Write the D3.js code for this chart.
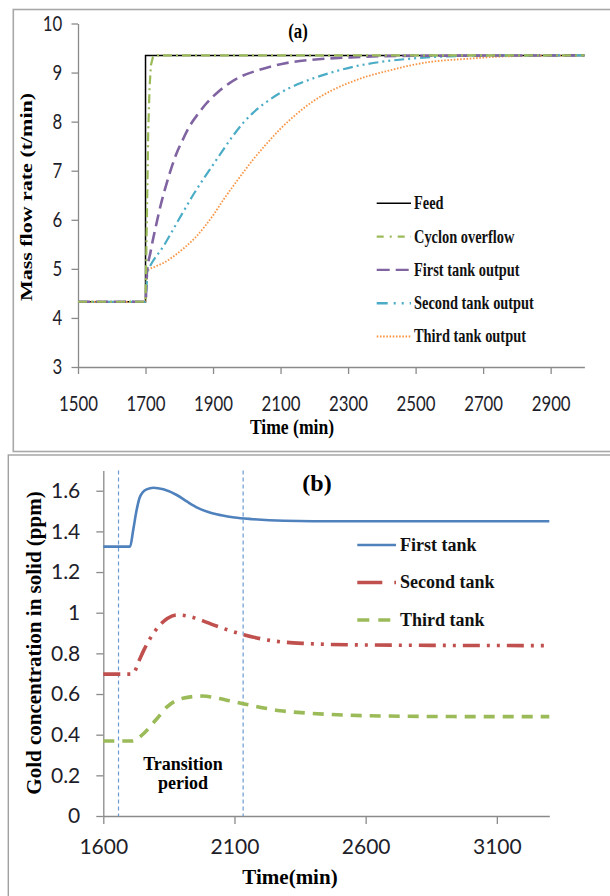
<!DOCTYPE html>
<html><head><meta charset="utf-8">
<script src="https://cdn.jsdelivr.net/npm/d3@7"></script>
<style>body{margin:0;background:#fff} svg{display:block}</style>
</head><body>
<svg id="c" width="610" height="896"></svg>
<script>
// ---------- Panel (a) data: [time (min), mass flow rate (t/min)] ----------
const feedA = [[1500,4.33],[1700,4.33],[1700,9.35],[3000,9.35]];
const cycloneA = [[1500,4.33],[1700,4.33],[1704,6.0],[1708,7.8],[1712,8.7],[1716,9.15],[1722,9.32],[1735,9.35],[3000,9.35]];
const firstTankA = [[1500,4.33],[1700,4.33],[1704,4.9],[1715,5.35],[1730,5.85],[1745,6.3],[1765,6.8],[1790,7.32],[1811,7.64],[1830,7.9],[1857,8.17],[1880,8.37],[1914,8.6],[1950,8.79],[1983,8.92],[2030,9.04],[2076,9.13],[2130,9.21],[2191,9.26],[2306,9.31],[2450,9.34],[3000,9.35]];
const secondTankA = [[1500,4.33],[1700,4.33],[1706,4.95],[1713,5.05],[1753,5.46],[1799,6.01],[1845,6.55],[1903,7.15],[1960,7.72],[1990,7.98],[2020,8.19],[2060,8.41],[2100,8.59],[2150,8.76],[2200,8.89],[2260,9.02],[2330,9.14],[2400,9.22],[2480,9.28],[2594,9.33],[2750,9.35],[3000,9.35]];
const thirdTankA = [[1500,4.33],[1700,4.33],[1705,4.95],[1730,5.05],[1753,5.12],[1788,5.28],[1815,5.43],[1845,5.62],[1875,5.86],[1903,6.12],[1930,6.4],[1960,6.69],[1990,6.97],[2018,7.22],[2060,7.56],[2099,7.85],[2150,8.17],[2191,8.39],[2250,8.63],[2306,8.8],[2360,8.93],[2421,9.04],[2480,9.14],[2536,9.21],[2652,9.28],[2767,9.33],[3000,9.35]];
const xTicksA = [1500,1700,1900,2100,2300,2500,2700,2900];
const yTicksA = [3,4,5,6,7,8,9,10];
const legendA = ["Feed","Cyclon overflow","First tank output","Second tank output","Third tank output"];

// ---------- Panel (b) data: [time (min), gold concentration (ppm)] ----------
const firstTankB = [[1600,1.325],[1702,1.325],[1714,1.407],[1727,1.505],[1740,1.571],[1765,1.607],[1791,1.615],[1829,1.607],[1880,1.579],[1920,1.546],[1960,1.516],[2000,1.495],[2050,1.479],[2100,1.468],[2170,1.46],[2289,1.452],[2400,1.45],[3300,1.45]];
const secondTankB = [[1600,0.698],[1712,0.698],[1735,0.76],[1755,0.817],[1800,0.915],[1844,0.972],[1881,0.989],[1933,0.980],[1980,0.96],[2022,0.939],[2075,0.915],[2126,0.895],[2185,0.876],[2245,0.862],[2300,0.854],[2363,0.849],[2615,0.841],[3300,0.838]];
const thirdTankB = [[1600,0.369],[1712,0.369],[1735,0.385],[1755,0.407],[1800,0.472],[1844,0.538],[1903,0.579],[1977,0.590],[2067,0.571],[2156,0.546],[2274,0.518],[2393,0.505],[2615,0.493],[2986,0.489],[3300,0.489]];
const xTicksB = [1600,2100,2600,3100];
const yTicksB = [0,0.2,0.4,0.6,0.8,1,1.2,1.4,1.6];
const transitionB = [1658,2133];
const legendB = ["First tank","Second tank","Third tank"];

const svg = d3.select("#c");
const SERIF = "'Liberation Serif','Times New Roman',serif";
const SANS = "Lato,'Open Sans',sans-serif";
const AXC = "#8a8a8a";
const SX = 0.8; // horizontal squeeze of panel (a) text

// frames
svg.append("rect").attr("x",13.3).attr("y",9.5).attr("width",620).attr("height",442)
  .attr("fill","none").attr("stroke","#a8a8a8").attr("stroke-width",1.6);
svg.append("rect").attr("x",8.3).attr("y",455).attr("width",620).attr("height",460)
  .attr("fill","none").attr("stroke","#a0a0a0").attr("stroke-width",1.4);

function styleAxis(g){
  g.select(".domain").attr("stroke",AXC).attr("stroke-width",1.3);
  g.selectAll(".tick line").attr("stroke",AXC).attr("stroke-width",1.3);
  g.selectAll(".tick text").attr("fill","#1e1e2a");
}

// ================= Panel (a) =================
const xA = d3.scaleLinear().domain([1500,3000]).range([78,584.4]);
const yA = d3.scaleLinear().domain([3,10]).range([367,23.5]);

const gAy = svg.append("g").attr("transform",`translate(${xA(1500)},0)`)
  .call(d3.axisLeft(yA).tickValues(yTicksA).tickSize(6.5).tickSizeOuter(0).tickFormat(d3.format("d")));
styleAxis(gAy);
gAy.selectAll(".tick text").attr("x",-15.7/SX).attr("transform",`scale(${SX},1)`)
  .attr("font-family",SANS).attr("font-size",21);

const gAx = svg.append("g").attr("transform",`translate(0,${yA(3)})`)
  .call(d3.axisBottom(xA).tickValues(xTicksA).tickSize(7).tickSizeOuter(0).tickFormat(d3.format("d")));
styleAxis(gAx);
gAx.selectAll(".tick text").attr("y",37).attr("dy","0.35em").attr("transform",`scale(${SX},1)`)
  .attr("font-family",SANS).attr("font-size",21);

const lineA = d3.line().x(d=>xA(d[0])).y(d=>yA(d[1]));
const lineAs = d3.line().x(d=>xA(d[0])).y(d=>yA(d[1])).curve(d3.curveMonotoneX);

const seriesA = [
  {data:feedA, color:"#000000", w:1.5, dash:null, gen:lineA},
  {data:thirdTankA, color:"#f79646", w:1.8, dash:"1.6,1.6", gen:lineAs},
  {data:secondTankA, color:"#4bacc6", w:2.2, dash:"10,4,2,4,2,4", gen:lineAs},
  {data:firstTankA, color:"#8064a2", w:2.6, dash:"12,6", gen:lineAs},
  {data:cycloneA, color:"#9bbb59", w:2.2, dash:"9,4,2,4", gen:lineA}
];
seriesA.forEach(s=>{
  svg.append("path").attr("d",s.gen(s.data)).attr("fill","none").attr("stroke",s.color)
    .attr("stroke-width",s.w).attr("stroke-dasharray",s.dash);
});

// title (a)
svg.append("text").attr("transform",`translate(298,38) scale(${SX},1)`).attr("text-anchor","middle")
  .attr("font-family",SERIF).attr("font-weight","bold").attr("font-size",21).text("(a)");
// axis titles
svg.append("text").attr("transform",`translate(32,197) scale(${SX},1) rotate(-90)`).attr("text-anchor","middle")
  .attr("font-family",SERIF).attr("font-weight","bold").attr("font-size",22).text("Mass flow rate  (t/min)");
svg.append("text").attr("transform",`translate(292,434) scale(${SX},1)`).attr("text-anchor","middle")
  .attr("font-family",SERIF).attr("font-weight","bold").attr("font-size",22).text("Time (min)");

// legend (a)
const legStyleA = [
  {color:"#000000", w:1.5, dash:null},
  {color:"#9bbb59", w:2.4, dash:"7,6,2,6"},
  {color:"#8064a2", w:2.4, dash:"13,6"},
  {color:"#4bacc6", w:2.4, dash:"11,6,2,6,2,6"},
  {color:"#f79646", w:1.8, dash:"1.6,1.6"}
];
legendA.forEach((name,i)=>{
  const y = 203.3 + i*33.3;
  svg.append("line").attr("x1",376.7).attr("x2",411).attr("y1",y).attr("y2",y)
    .attr("stroke",legStyleA[i].color).attr("stroke-width",legStyleA[i].w).attr("stroke-dasharray",legStyleA[i].dash);
  svg.append("text").attr("transform",`translate(414,${y}) scale(${SX},1)`).attr("dy","0.33em")
    .attr("font-family",SERIF).attr("font-weight","bold").attr("font-size",18).attr("fill","#111").text(name);
});

// ================= Panel (b) =================
const xB = d3.scaleLinear().domain([1600,3300]).range([103.3,549.3]);
const yB = d3.scaleLinear().domain([0,1.7]).range([816,470.4]);

const gBy = svg.append("g").attr("transform",`translate(${xB(1600)},0)`)
  .call(d3.axisLeft(yB).tickValues(yTicksB).tickSize(7).tickSizeOuter(0)
    .tickFormat(d=>String(+d.toFixed(1))));
styleAxis(gBy);
gBy.selectAll(".tick text").attr("x",-23).attr("font-family",SANS).attr("font-size",21);

const gBx = svg.append("g").attr("transform",`translate(0,${yB(0)})`)
  .call(d3.axisBottom(xB).tickValues(xTicksB).tickSize(8).tickSizeOuter(0).tickFormat(d3.format("d")));
styleAxis(gBx);
gBx.selectAll(".tick text").attr("y",31).attr("dy","0.35em").attr("font-family",SANS).attr("font-size",21);

// transition lines
transitionB.forEach(t=>{
  svg.append("line").attr("x1",xB(t)).attr("x2",xB(t)).attr("y1",yB(1.7)).attr("y2",yB(0))
    .attr("stroke","#6b9bd2").attr("stroke-width",1.2).attr("stroke-dasharray","4,3");
});

const lineB = d3.line().x(d=>xB(d[0])).y(d=>yB(d[1])).curve(d3.curveMonotoneX);
const seriesB = [
  {data:firstTankB, color:"#4f81bd", w:2.6, dash:null},
  {data:secondTankB, color:"#c0504d", w:3.6, dash:"17,7,3,7,3,7"},
  {data:thirdTankB, color:"#9bbb59", w:3.6, dash:"11,8"}
];
seriesB.forEach(s=>{
  svg.append("path").attr("d",lineB(s.data)).attr("fill","none").attr("stroke",s.color)
    .attr("stroke-width",s.w).attr("stroke-dasharray",s.dash);
});

svg.append("text").attr("x",317).attr("y",491).attr("text-anchor","middle")
  .attr("font-family",SERIF).attr("font-weight","bold").attr("font-size",24).text("(b)");
svg.append("text").attr("transform",`translate(41,643) rotate(-90)`).attr("text-anchor","middle")
  .attr("font-family",SERIF).attr("font-weight","bold").attr("font-size",21).text("Gold concentration in solid (ppm)");
svg.append("text").attr("x",290).attr("y",884).attr("text-anchor","middle")
  .attr("font-family",SERIF).attr("font-weight","bold").attr("font-size",21).text("Time(min)");
svg.append("text").attr("x",183).attr("y",770).attr("text-anchor","middle")
  .attr("font-family",SERIF).attr("font-weight","bold").attr("font-size",18).text("Transition");
svg.append("text").attr("x",183).attr("y",789).attr("text-anchor","middle")
  .attr("font-family",SERIF).attr("font-weight","bold").attr("font-size",18).text("period");

const legStyleB = [
  {color:"#4f81bd", w:2.6, dash:null},
  {color:"#c0504d", w:3.6, dash:"25,12,3,20"},
  {color:"#9bbb59", w:3.6, dash:"12,9"}
];
legendB.forEach((name,i)=>{
  const y = 545 + i*37.5;
  svg.append("line").attr("x1",357.3).attr("x2",396).attr("y1",y).attr("y2",y)
    .attr("stroke",legStyleB[i].color).attr("stroke-width",legStyleB[i].w).attr("stroke-dasharray",legStyleB[i].dash);
  svg.append("text").attr("x",400).attr("y",y).attr("dy","0.33em")
    .attr("font-family",SERIF).attr("font-weight","bold").attr("font-size",18).attr("fill","#111").text(name);
});
</script>
</body></html>
